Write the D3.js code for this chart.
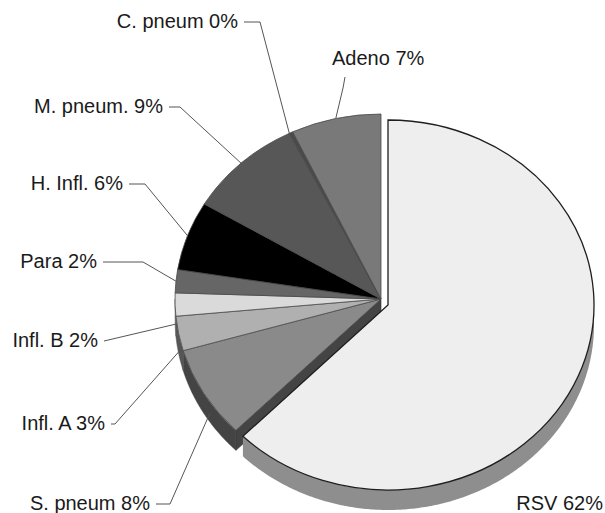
<!DOCTYPE html>
<html>
<head>
<meta charset="utf-8">
<script src="https://cdn.jsdelivr.net/npm/d3@7"></script>
<style>
  body { margin: 0; background: #fff; }
  svg { display: block; }
  text { font-family: "Liberation Sans", Arial, sans-serif; font-size: 20px; fill: #1a1a1a; }
</style>
</head>
<body>
<svg id="pie"></svg>
<script>
let width = 605;
let height = 513;

// slices, clockwise from 12 o'clock
let names = ["RSV", "S. pneum", "Infl. A", "Infl. B", "Para", "H. Infl.", "M. pneum.", "C. pneum", "Adeno"];
let values = [62, 8, 3, 2, 2, 6, 9, 0.3, 7];
let fills = ["#eeeeee", "#8a8a8a", "#b0b0b0", "#dadada", "#666666", "#000000", "#575757", "#4a4a4a", "#797979"];

// label placement (baseline), elbow of the leader line, nudge of the leader end in degrees
let labelX = [603, 150, 105, 98, 97, 123, 163, 238, 332];
let labelY = [510, 510, 430, 347, 268, 190, 113, 28, 65];
let elbowX = [null, 170, 115, null, 143, 145, 180, 260, 343];
let nudge = [0, -3, -4.5, -6, 0, 0, 0, -0.5, 0];

let cx = 381, cy = 299;   // centre of the pie
let rx = 206, ry = 185;   // ellipse radii (tilted view)
let depth = 20;
let explode = [7, 6];     // RSV pulled out

let svg = d3.select("#pie")
  .attr("width", width)
  .attr("height", height);

let data = names.map((n, i) => ({ name: n, value: values[i], fill: fills[i], i: i }));
let arcs = d3.pie().sort(null).value(d => d.value)(data);

let arc = d3.arc().innerRadius(0).outerRadius(ry);

function centre(d) {
  return d.data.i === 0 ? [cx + explode[0], cy + explode[1]] : [cx, cy];
}

function pt(a, o) {
  return [o[0] + rx * Math.sin(a), o[1] - ry * Math.cos(a)];
}

function wallPath(d) {
  let o = centre(d);
  let s = Math.max(d.startAngle, Math.PI / 2);
  let e = Math.min(d.endAngle, 3 * Math.PI / 2);
  if (e <= s) return null;
  let steps = d3.range(s, e, 0.01).concat([e]);
  let top = steps.map(a => pt(a, o));
  let bottom = steps.slice().reverse().map(a => {
    let p = pt(a, o);
    return [p[0], p[1] + depth];
  });
  return d3.line()(top.concat(bottom)) + "Z";
}

function wallColor(c, k) {
  return d3.rgb(c).darker(k).formatHex();
}

let rest = arcs.filter(d => d.data.i !== 0);
let rsv = arcs.filter(d => d.data.i === 0);

// side walls of the rest of the pie
let g = svg.append("g");

// radial wall where RSV was cut out
let first = rest[0];
let p0 = pt(first.startAngle, [cx, cy]);
g.append("path")
  .attr("d", d3.line()([[cx, cy], p0, [p0[0], p0[1] + depth], [cx, cy + depth]]) + "Z")
  .attr("fill", wallColor(first.data.fill, 2))
  .attr("stroke", "#333")
  .attr("stroke-width", 0.6);

g.selectAll("path.wall")
  .data(rest.filter(d => wallPath(d)))
  .enter()
  .append("path")
    .attr("class", "wall")
    .attr("d", wallPath)
    .attr("fill", d => wallColor(d.data.fill, 2))
    .attr("stroke", d => wallColor(d.data.fill, 2))
    .attr("stroke-width", 0.5);

g.selectAll("path.top")
  .data(rest)
  .enter()
  .append("path")
    .attr("class", "top")
    .attr("transform", d => `translate(${centre(d)[0]},${centre(d)[1]}) scale(${rx / ry},1)`)
    .attr("d", arc)
    .attr("fill", d => d.data.fill)
    .attr("stroke", "#4a4a4a")
    .attr("stroke-width", 0.8)
    .attr("vector-effect", "non-scaling-stroke");

// RSV slice, exploded
let gr = svg.append("g");
gr.selectAll("path.wall")
  .data(rsv)
  .enter()
  .append("path")
    .attr("class", "wall")
    .attr("d", wallPath)
    .attr("fill", d => wallColor(d.data.fill, 1.45));

gr.selectAll("path.top")
  .data(rsv)
  .enter()
  .append("path")
    .attr("class", "top")
    .attr("transform", d => `translate(${centre(d)[0]},${centre(d)[1]}) scale(${rx / ry},1)`)
    .attr("d", arc)
    .attr("fill", d => d.data.fill)
    .attr("stroke", "#1e1e1e")
    .attr("stroke-width", 1.3)
    .attr("vector-effect", "non-scaling-stroke");

// leader lines
let leaders = arcs.filter(d => d.data.i !== 0);
svg.append("g").selectAll("path")
  .data(leaders)
  .enter()
  .append("path")
    .attr("fill", "none")
    .attr("stroke", "#555")
    .attr("stroke-width", 1)
    .attr("d", d => {
      let i = d.data.i;
      let a = (d.startAngle + d.endAngle) / 2 + nudge[i] * Math.PI / 180;
      let end = pt(a, centre(d));
      if (i === 1) end[1] += depth * 0.6;   // S. pneum points at the wall
      let pts;
      if (i === 8) {
        // label above the slice
        pts = [[labelX[i] + 13, labelY[i] + 12], [elbowX[i], labelY[i] + 23], end];
      } else {
        let ly = labelY[i] - 6;
        pts = [[labelX[i] + 6, ly]];
        if (elbowX[i] !== null) pts.push([elbowX[i], ly]);
        pts.push(end);
      }
      return d3.line()(pts);
    });

// labels
svg.append("g").selectAll("text")
  .data(arcs)
  .enter()
  .append("text")
    .attr("x", d => labelX[d.data.i])
    .attr("y", d => labelY[d.data.i])
    .attr("text-anchor", d => (d.data.i === 8 ? "start" : "end"))
    .text(d => `${d.data.name} ${Math.round(d.data.value)}%`);
</script>
</body>
</html>
